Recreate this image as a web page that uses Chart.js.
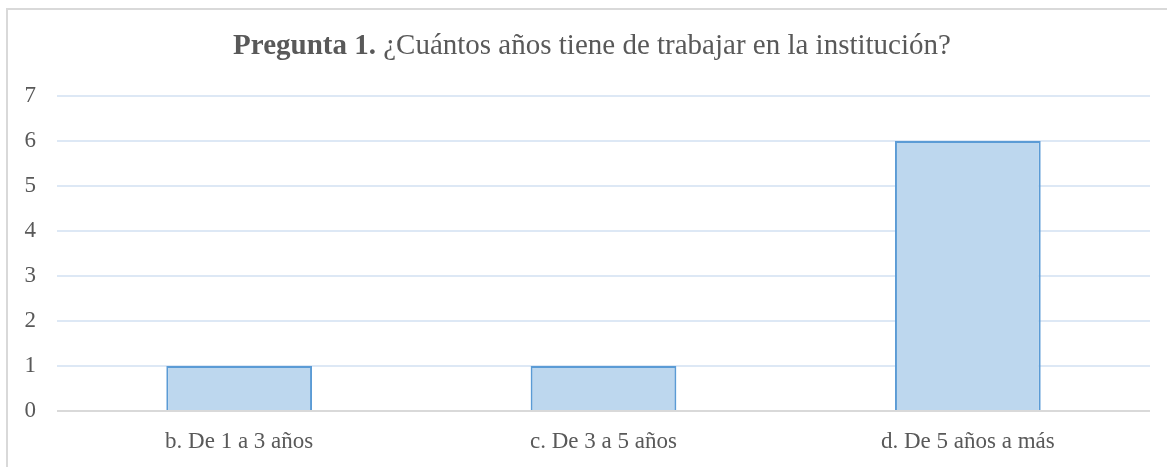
<!DOCTYPE html>
<html>
<head>
<meta charset="utf-8">
<script src="https://cdn.jsdelivr.net/npm/chart.js@4"></script>
<style>
  html, body { margin: 0; padding: 0; background: #fff; }
</style>
</head>
<body>
<canvas id="chart1" width="1167" height="467"></canvas>
<script>
const categories = ["b. De 1 a 3 años", "c. De 3 a 5 años", "d. De 5 años a más"];
const values = [1, 1, 6];
const titleBold = "Pregunta 1.";
const titleRest = " ¿Cuántos años tiene de trabajar en la institución?";

const FONT = "'Liberation Serif', 'Times New Roman', serif";
const TEXT_COLOR = "#595959";
const TITLE_SIZE = 29;

// title with a bold lead-in plus the frame lines
const decorPlugin = {
    id: "decor",
    afterDraw(chart) {
        const ctx = chart.ctx;
        ctx.save();
        ctx.strokeStyle = "#d9d9d9";
        ctx.lineWidth = 2;
        ctx.beginPath();
        ctx.moveTo(7, 467);
        ctx.lineTo(7, 9);
        ctx.lineTo(1167, 9);
        ctx.stroke();

        ctx.fillStyle = TEXT_COLOR;
        ctx.textBaseline = "alphabetic";
        ctx.font = "bold " + TITLE_SIZE + "px " + FONT;
        const w1 = ctx.measureText(titleBold).width;
        ctx.font = TITLE_SIZE + "px " + FONT;
        const w2 = ctx.measureText(titleRest).width;
        const x0 = 592 - (w1 + w2) / 2;
        ctx.textAlign = "left";
        ctx.font = "bold " + TITLE_SIZE + "px " + FONT;
        ctx.fillText(titleBold, x0, 54);
        ctx.font = TITLE_SIZE + "px " + FONT;
        ctx.fillText(titleRest, x0 + w1, 54);
        ctx.restore();
    }
};

new Chart(document.getElementById("chart1").getContext("2d"), {
    type: "bar",
    data: {
        labels: categories,
        datasets: [{
            data: values,
            backgroundColor: "#bdd7ee",
            borderColor: "#5b9bd5",
            borderWidth: 2,
            categoryPercentage: 0.4,
            barPercentage: 1
        }]
    },
    options: {
        responsive: false,
        animation: false,
        layout: { padding: { top: 96, right: 17, left: 0, bottom: 0 } },
        plugins: {
            legend: { display: false },
            title: { display: false },
            tooltip: { enabled: false }
        },
        scales: {
            x: {
                grid: { display: false, drawTicks: false },
                border: { display: false },
                ticks: { color: TEXT_COLOR, font: { family: FONT, size: 23 }, padding: 17 },
                afterFit(scale) { scale.height = 56; }
            },
            y: {
                min: 0,
                max: 7,
                grid: {
                    drawTicks: false,
                    lineWidth: 2,
                    color: (c) => c.tick && c.tick.value === 0 ? "#d9d9d9" : "#dde8f5"
                },
                border: { display: false },
                ticks: { stepSize: 1, color: TEXT_COLOR, font: { family: FONT, size: 23 }, padding: 21 },
                afterFit(scale) { scale.width = 57; }
            }
        }
    },
    plugins: [decorPlugin]
});
</script>
</body>
</html>
